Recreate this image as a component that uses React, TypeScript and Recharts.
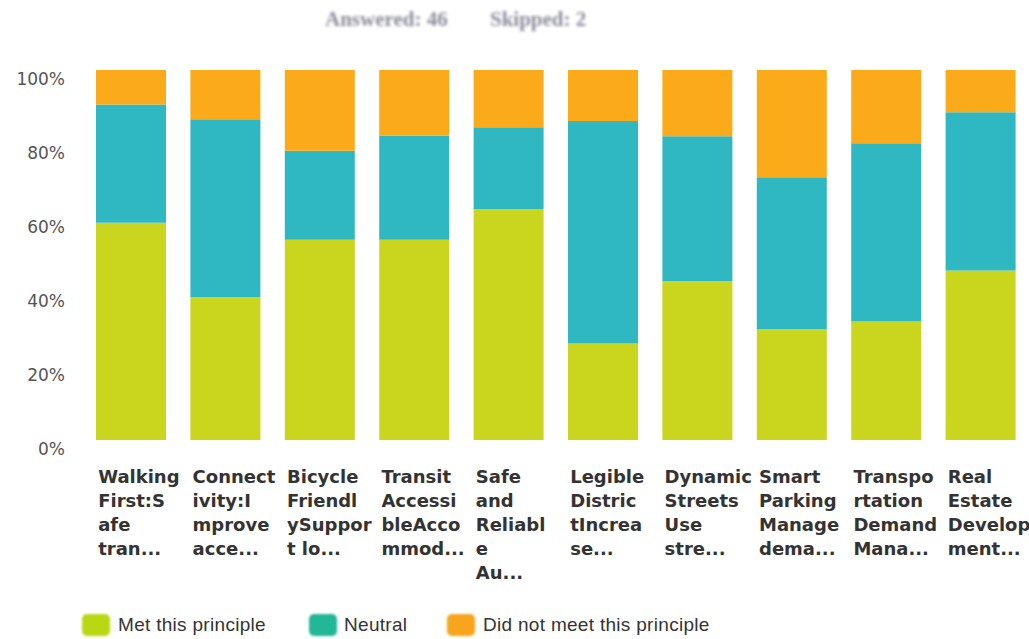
import React from "react";
import { BarChart, Bar, XAxis, YAxis } from "recharts";

const categories = [
  "Walking First:Safe tran...",
  "Connectivity:Improve acce...",
  "Bicycle FriendlySupport lo...",
  "Transit AccessibleAccommod...",
  "Safe and Reliable Au...",
  "Legible DistrictIncrease...",
  "Dynamic Streets Use stre...",
  "Smart Parking Manage dema...",
  "Transportation Demand Mana...",
  "Real Estate Development...",
];

const tickLines = [
  ["Walking", "First:S", "afe", "tran..."],
  ["Connect", "ivity:I", "mprove", "acce..."],
  ["Bicycle", "Friendl", "ySuppor", "t lo..."],
  ["Transit", "Accessi", "bleAcco", "mmod..."],
  ["Safe", "and", "Reliabl", "e", "Au..."],
  ["Legible", "Distric", "tIncrea", "se..."],
  ["Dynamic", "Streets", "Use", "stre..."],
  ["Smart", "Parking", "Manage", "dema..."],
  ["Transpo", "rtation", "Demand", "Mana..."],
  ["Real", "Estate", "Develop", "ment..."],
];

const met = [58.7, 38.6, 54.1, 54.1, 62.4, 26.1, 43.0, 30.0, 32.0, 45.8];
const neutral = [32.0, 48.1, 24.1, 28.1, 22.1, 60.1, 39.1, 41.0, 48.2, 42.8];
const notMet = [9.3, 13.3, 21.8, 17.8, 15.5, 13.8, 17.9, 29.0, 19.8, 11.4];

const yTicks = [0, 20, 40, 60, 80, 100];

const seriesNames = ["Met this principle", "Neutral", "Did not meet this principle"];
const barColors = ["#cad51e", "#2fb8c2", "#fbab19"];
const legendColors = ["#b9d812", "#22b795", "#f6a51c"];

const data = categories.map((c, i) => ({
  name: c,
  met: met[i],
  neutral: neutral[i],
  notMet: notMet[i],
}));

const XTick = (props: any) => {
  const { x, y, payload } = props;
  const lines = tickLines[payload.index] || [];
  return (
    <text
      x={x - 33}
      y={y + 43}
      textAnchor="start"
      fontFamily="'DejaVu Sans', sans-serif"
      fontWeight="bold"
      fontSize={18}
      fill="#333"
    >
      {lines.map((l, i) => (
        <tspan key={i} x={x - 33} dy={i === 0 ? 0 : 24}>
          {l}
        </tspan>
      ))}
    </text>
  );
};

const YTick = (props: any) => {
  const { y, payload } = props;
  return (
    <text
      x={65}
      y={y + 15}
      textAnchor="end"
      fontFamily="'DejaVu Sans', sans-serif"
      fontSize={17}
      fill="#555"
    >
      {`${payload.value}%`}
    </text>
  );
};

const legendPos = [
  { icon: 82, text: 118 },
  { icon: 309, text: 344 },
  { icon: 447, text: 483 },
];

const titleStyle: React.CSSProperties = {
  position: "absolute",
  top: 7,
  fontFamily: "'Liberation Serif', serif",
  fontWeight: "bold",
  fontSize: 21,
  color: "#8c8c9a",
  filter: "blur(1.6px)",
  whiteSpace: "pre",
};

export default function App() {
  return (
    <div
      style={{
        position: "absolute",
        left: 0,
        top: 0,
        width: 1029,
        height: 639,
        background: "#fff",
        overflow: "hidden",
        fontFamily: "'Liberation Sans', Arial, sans-serif",
      }}
    >
      <div style={{ ...titleStyle, left: 325 }}>Answered: 46</div>
      <div style={{ ...titleStyle, left: 490 }}>Skipped: 2</div>
      <BarChart
        width={1029}
        height={639}
        data={data}
        margin={{ top: 70, right: 1, left: 0, bottom: 0 }}
        barSize={70}
      >
        <XAxis
          dataKey="name"
          axisLine={false}
          tickLine={false}
          tickSize={0}
          tickMargin={0}
          height={199}
          interval={0}
          tick={<XTick />}
        />
        <YAxis
          type="number"
          domain={[0, 100]}
          ticks={yTicks}
          axisLine={false}
          tickLine={false}
          width={84}
          tick={<YTick />}
        />
        <Bar dataKey="met" stackId="a" fill={barColors[0]} isAnimationActive={false} />
        <Bar dataKey="neutral" stackId="a" fill={barColors[1]} isAnimationActive={false} />
        <Bar dataKey="notMet" stackId="a" fill={barColors[2]} isAnimationActive={false} />
      </BarChart>
      {seriesNames.map((n, i) => (
        <React.Fragment key={n}>
          <div
            style={{
              position: "absolute",
              left: legendPos[i].icon,
              top: 614,
              width: 28,
              height: 22,
              borderRadius: 5,
              background: legendColors[i],
              filter: "blur(0.8px)",
            }}
          />
          <div
            style={{
              position: "absolute",
              left: legendPos[i].text,
              top: 613,
              fontSize: 19,
              letterSpacing: 0.3,
              color: "#333",
              whiteSpace: "pre",
              lineHeight: "24px",
            }}
          >
            {n}
          </div>
        </React.Fragment>
      ))}
    </div>
  );
}
